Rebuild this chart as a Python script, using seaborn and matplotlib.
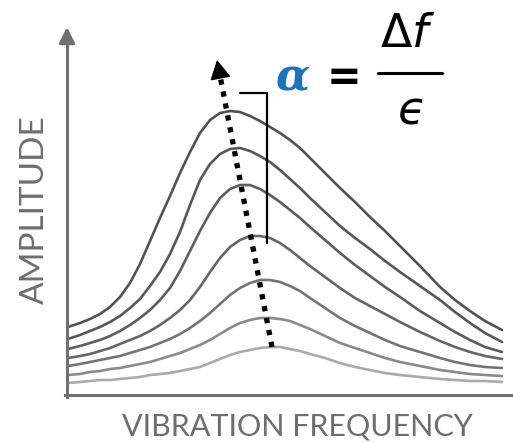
import matplotlib
matplotlib.use("Agg")
import matplotlib.pyplot as plt
import seaborn as sns
import pandas as pd

# resonance curves (frequency vs amplitude, arbitrary units)
freq = [1, 13, 23, 33, 43, 53, 63, 73, 83, 93, 103, 113, 123, 133, 143,
        153, 163, 173, 183, 193, 203, 213, 223, 233, 243, 258, 273, 288,
        303, 318, 333, 353, 373, 388, 403, 418, 435]
amp_1 = [68, 72, 76, 81, 88, 98, 112, 131, 154, 177, 199, 222, 243, 262,
         275, 282, 284, 283, 279, 274, 268, 262, 255, 247, 237, 222, 207,
         193, 178, 164, 149, 129, 108, 95, 84, 74, 65]
amp_2 = [56, 60, 64, 68, 73, 79, 87, 96, 109, 123, 141, 163, 190, 215,
         231, 241, 246, 247, 244, 239, 233, 225, 216, 207, 197, 183, 169,
         157, 146, 134, 123, 109, 95, 83, 72, 62, 53]
amp_3 = [46, 49, 52, 55, 59, 64, 70, 77, 85, 95, 107, 124, 144, 164,
         182, 197, 206, 210, 210, 206, 200, 193, 185, 177, 168, 155, 142,
         130, 119, 108, 98, 84, 72, 63, 55, 48, 43]
amp_4 = [37, 39, 41, 44, 47, 51, 55, 59, 64, 70, 77, 85, 95, 108,
         123, 137, 148, 155, 159, 159, 157, 152, 145, 137, 129, 118, 107,
         97, 89, 81, 73, 63, 54, 48, 43, 39, 36]
amp_5 = [29, 31, 33, 35, 37, 39, 42, 45, 48, 52, 56, 61, 67, 74,
         82, 91, 100, 107, 112, 115, 115, 113, 109, 104, 97, 87, 77,
         69, 62, 55, 49, 43, 37, 33, 30, 28, 27]
amp_6 = [20, 21, 23, 24, 26, 27, 29, 31, 33, 36, 39, 42, 46, 50,
         55, 61, 67, 72, 75, 77, 77, 76, 74, 70, 66, 59, 52,
         47, 42, 37, 33, 29, 25, 23, 21, 20, 19]
amp_7 = [12, 13, 14, 15, 15, 16, 17, 18, 20, 21, 22, 24, 26, 28,
         32, 36, 40, 43, 45, 47, 48, 48, 46, 44, 41, 37, 32,
         28, 25, 22, 20, 18, 16, 15, 14, 14, 13]
curves = [amp_1, amp_2, amp_3, amp_4, amp_5, amp_6, amp_7]
curve_colors = ["#525252", "#575757", "#5d5d5d", "#666666",
                "#747474", "#8a8a8a", "#aaaaaa"]

# annotation helpers
shift_tail = (205, 48)
shift_head = (150, 335)
bracket_x = [173, 200, 200]
bracket_y = [302, 302, 152]

rows = []
for i, amps in enumerate(curves):
    for f, a in zip(freq, amps):
        rows.append({"freq": f, "amp": a, "curve": i})
df = pd.DataFrame(rows)

sns.set_style("white")
fig = plt.figure(figsize=(5.13, 4.43), dpi=100)
ax = fig.add_axes([0, 0, 1, 1])

sns.lineplot(data=df, x="freq", y="amp", hue="curve", palette=curve_colors,
             linewidth=1.9, legend=False, sort=False, ax=ax)

ax.set_xlim(-67, 446)
ax.set_ylim(-48, 395)
ax.set_xticks([])
ax.set_yticks([])
ax.set_xlabel("")
ax.set_ylabel("")

axis_color = "#707070"
for s in ["top", "right"]:
    ax.spines[s].set_visible(False)
ax.spines["left"].set_position(("data", 0))
ax.spines["bottom"].set_position(("data", 0))
ax.spines["left"].set_bounds(-2, 358)
ax.spines["bottom"].set_bounds(-2, 446)
for s in ["left", "bottom"]:
    ax.spines[s].set_color(axis_color)
    ax.spines[s].set_linewidth(2.2)

ax.annotate("", xy=(0, 368), xytext=(0, 352),
            arrowprops=dict(arrowstyle="-|>,head_length=0.6,head_width=0.3",
                            color=axis_color, lw=2.2, mutation_scale=16,
                            shrinkA=0, shrinkB=0))

# dotted arrow for peak shift
ux = (shift_head[0] - shift_tail[0])
uy = (shift_head[1] - shift_tail[1])
n = (ux ** 2 + uy ** 2) ** 0.5
mid = (shift_head[0] - ux / n * 14, shift_head[1] - uy / n * 14)
ax.plot([shift_tail[0], mid[0]], [shift_tail[1], mid[1]], color="black",
        lw=3.8, linestyle=(0, (1, 1.3)), dash_capstyle="butt")
ax.annotate("", xy=shift_head, xytext=mid,
            arrowprops=dict(arrowstyle="-|>,head_length=0.55,head_width=0.3",
                            color="black", lw=1, mutation_scale=22,
                            shrinkA=0, shrinkB=0))

ax.plot(bracket_x, bracket_y, color="black", lw=1.6)

# formula
ax.text(225, 305, "α", fontsize=32, color="#1a73bd", family="DejaVu Serif",
        fontweight="bold", fontstyle="italic", ha="center", va="baseline")
ax.text(277, 305, "=", fontsize=30, color="black", fontweight="bold",
        ha="center", va="baseline")
ax.text(313, 348, r"$\Delta f$", fontsize=33, color="black", ha="left",
        va="baseline")
ax.plot([311, 375], [322, 322], color="black", lw=2.2)
ax.text(343, 272, r"$ϵ$", fontsize=33, color="black", ha="center",
        va="baseline")

label_color = "#6e6e6e"
ax.text(-32, 185, "AMPLITUDE", rotation=90, fontsize=24, color=label_color,
        family="Lato", ha="center", va="center")
ax.text(230, -32, "VIBRATION FREQUENCY", fontsize=22, color=label_color,
        family="Lato", ha="center", va="center")

plt.savefig("out.png", dpi=100)
